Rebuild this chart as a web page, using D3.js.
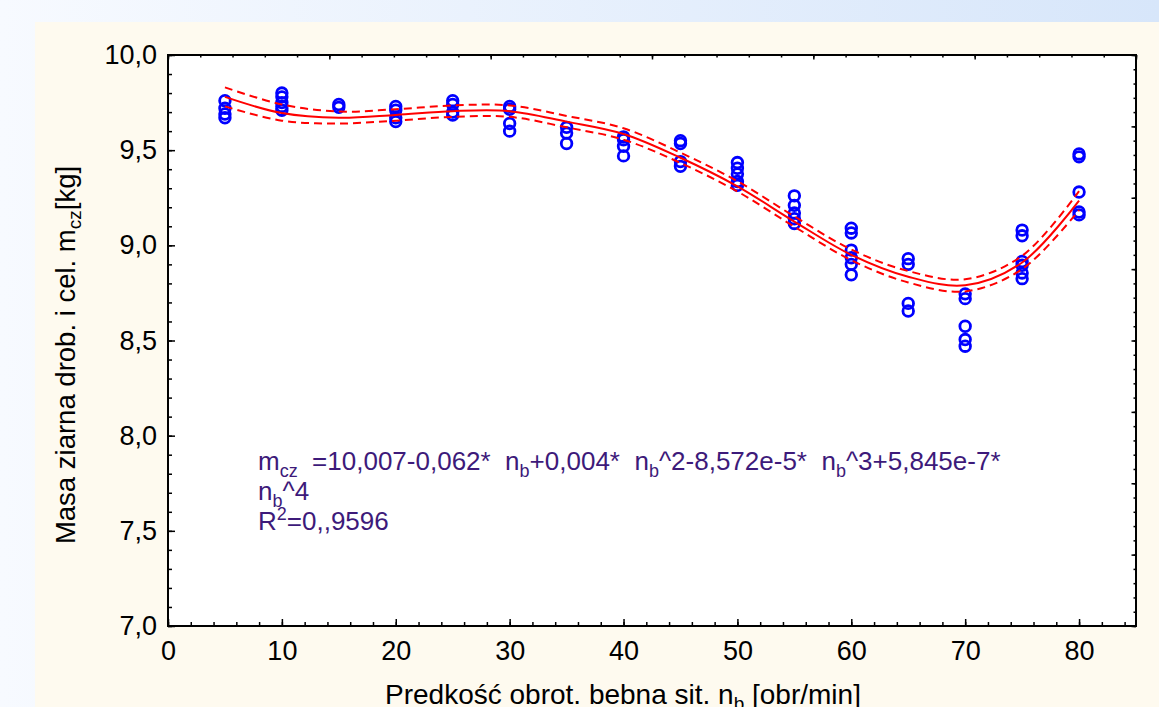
<!DOCTYPE html>
<html>
<head>
<meta charset="utf-8">
<style>
  body { margin: 0; overflow: hidden; }
  text { font-family: "Liberation Sans", Arial, sans-serif; }
</style>
</head>
<body>
<script src="https://d3js.org/d3.v7.min.js"></script>
<script>

  // measured points: speed [obr/min] -> mass [kg]
  var pointX = [5, 5, 5, 5,
                10, 10, 10, 10, 10,
                15, 15,
                20, 20, 20, 20,
                25, 25, 25, 25,
                30, 30, 30, 30,
                35, 35, 35,
                40, 40, 40, 40,
                45, 45, 45, 45,
                50, 50, 50, 50, 50,
                55, 55, 55, 55, 55,
                60, 60, 60, 60, 60, 60,
                65, 65, 65, 65,
                70, 70, 70, 70, 70,
                75, 75, 75, 75, 75, 75,
                80, 80, 80, 80, 80];
  var pointY = [9.76, 9.72, 9.69, 9.67,
                9.80, 9.78, 9.75, 9.73, 9.71,
                9.74, 9.725,
                9.73, 9.71, 9.67, 9.65,
                9.76, 9.74, 9.70, 9.685,
                9.73, 9.715, 9.64, 9.60,
                9.62, 9.59, 9.535,
                9.57, 9.555, 9.52, 9.47,
                9.55, 9.535, 9.44, 9.415,
                9.435, 9.405, 9.375, 9.335, 9.315,
                9.26, 9.21, 9.17, 9.14, 9.115,
                9.09, 9.065, 8.975, 8.935, 8.90, 8.845,
                8.93, 8.90, 8.695, 8.655,
                8.745, 8.72, 8.575, 8.505, 8.47,
                9.08, 9.05, 8.915, 8.895, 8.855, 8.825,
                9.48, 9.465, 9.28, 9.175, 9.16];

  // fitted curve and confidence band
  var fitX     = [5, 10, 15, 20, 25, 30, 35, 40, 45, 50, 55, 60, 65, 70, 75, 80];
  var fitY     = [9.78, 9.695, 9.67, 9.685, 9.705, 9.705, 9.65, 9.585, 9.46, 9.31, 9.125, 8.95, 8.835, 8.79, 8.91, 9.235];
  var fitUpper = [9.83, 9.74, 9.703, 9.715, 9.735, 9.735, 9.68, 9.615, 9.487, 9.337, 9.152, 8.978, 8.865, 8.822, 8.945, 9.285];
  var fitLower = [9.73, 9.655, 9.64, 9.655, 9.675, 9.675, 9.62, 9.555, 9.433, 9.283, 9.098, 8.922, 8.805, 8.758, 8.875, 9.185];

  var xTicks = [0, 10, 20, 30, 40, 50, 60, 70, 80];
  var yTicks = [7.0, 7.5, 8.0, 8.5, 9.0, 9.5, 10.0];

  var width = 1159;
  var height = 707;
  var plotLeft = 168, plotRight = 1136, plotTop = 55, plotBottom = 626;

  var svg = d3.select("body")
      .append("svg")
      .attr("width", width)
      .attr("height", height);

  // page background
  var grad = svg.append("defs").append("linearGradient")
      .attr("id", "bg")
      .attr("x1", "0%").attr("x2", "100%").attr("y1", "0%").attr("y2", "0%");
  grad.append("stop").attr("offset", "0%").attr("stop-color", "#f7faff");
  grad.append("stop").attr("offset", "100%").attr("stop-color", "#d7e6fa");

  svg.append("rect")
      .attr("width", width).attr("height", height)
      .attr("fill", "url(#bg)");
  svg.append("rect")
      .attr("x", 35).attr("y", 22)
      .attr("width", width - 35).attr("height", height - 22)
      .attr("fill", "#fefaef");

  var x = d3.scaleLinear().domain([0, 85]).range([plotLeft, plotRight]);
  var y = d3.scaleLinear().domain([7, 10]).range([plotBottom, plotTop]);

  svg.append("rect")
      .attr("x", plotLeft).attr("y", plotTop)
      .attr("width", plotRight - plotLeft).attr("height", plotBottom - plotTop)
      .attr("fill", "#ffffff");

  var comma = function (d) { return d3.format(".1f")(d).replace(".", ","); };

  // bottom axis: ticks inward
  svg.append("g")
      .attr("transform", "translate(0," + plotBottom + ")")
      .call(d3.axisBottom(x).tickValues(d3.range(0, 86, 2)).tickSize(-4).tickFormat(""));
  svg.append("g")
      .attr("transform", "translate(0," + plotBottom + ")")
      .call(d3.axisBottom(x).tickValues(xTicks).tickSize(-7).tickPadding(15))
      .call(function (g) {
        g.selectAll("text").attr("font-size", 27).attr("fill", "#000");
      });

  // left axis
  svg.append("g")
      .attr("transform", "translate(" + plotLeft + ",0)")
      .call(d3.axisLeft(y).tickValues(d3.range(70, 101).map(function (d) { return d / 10; })).tickSize(-4).tickFormat(""));
  svg.append("g")
      .attr("transform", "translate(" + plotLeft + ",0)")
      .call(d3.axisLeft(y).tickValues(yTicks).tickSize(-7).tickPadding(11).tickFormat(comma))
      .call(function (g) {
        g.selectAll("text").attr("font-size", 27).attr("fill", "#000");
      });

  // top and right frame ticks (own divisions)
  var topScale = d3.scaleLinear().domain([0, 30]).range([plotLeft, plotRight]);
  svg.append("g")
      .attr("transform", "translate(0," + plotTop + ")")
      .call(d3.axisTop(topScale).tickValues(d3.range(0, 31)).tickSize(-2.5).tickFormat(""));
  svg.append("g")
      .attr("transform", "translate(0," + plotTop + ")")
      .call(d3.axisTop(topScale).tickValues(d3.range(0, 31, 5)).tickSize(-4.5).tickFormat(""));

  var rightScale = d3.scaleLinear().domain([0, 40]).range([plotBottom, plotTop]);
  svg.append("g")
      .attr("transform", "translate(" + plotRight + ",0)")
      .call(d3.axisRight(rightScale).tickValues(d3.range(0, 41)).tickSize(-2.5).tickFormat(""));
  svg.append("g")
      .attr("transform", "translate(" + plotRight + ",0)")
      .call(d3.axisRight(rightScale).tickValues(d3.range(0, 41, 5)).tickSize(-4.5).tickFormat(""));

  svg.selectAll(".domain").remove();
  svg.selectAll(".tick line").attr("stroke", "#000").attr("stroke-width", 1.5);

  svg.append("rect")
      .attr("x", plotLeft).attr("y", plotTop)
      .attr("width", plotRight - plotLeft).attr("height", plotBottom - plotTop)
      .attr("fill", "none")
      .attr("stroke", "#000")
      .attr("stroke-width", 2);

  // points
  svg.append("g").selectAll("circle")
      .data(pointX)
      .enter()
        .append("circle")
        .attr("cx", function (d) { return x(d); })
        .attr("cy", function (d, i) { return y(pointY[i]); })
        .attr("r", 5.3)
        .attr("fill", "none")
        .attr("stroke", "#0000ff")
        .attr("stroke-width", 2.8);

  // fitted curve and band
  function fitLine(values) {
    return d3.line()
        .x(function (d) { return x(d); })
        .y(function (d, i) { return y(values[i]); })
        .curve(d3.curveCatmullRom.alpha(0.5));
  }

  svg.append("path")
      .attr("d", fitLine(fitUpper)(fitX))
      .attr("fill", "none")
      .attr("stroke", "#ff0000")
      .attr("stroke-width", 2)
      .attr("stroke-dasharray", "8,5");
  svg.append("path")
      .attr("d", fitLine(fitLower)(fitX))
      .attr("fill", "none")
      .attr("stroke", "#ff0000")
      .attr("stroke-width", 2)
      .attr("stroke-dasharray", "8,5");
  svg.append("path")
      .attr("d", fitLine(fitY)(fitX))
      .attr("fill", "none")
      .attr("stroke", "#ff0000")
      .attr("stroke-width", 2);

  // regression equation
  var sp = "\u00a0";
  var eq = svg.append("g")
      .attr("fill", "#3d1a7a")
      .attr("font-size", 26);

  var line1 = eq.append("text").attr("x", 258).attr("y", 470);
  line1.append("tspan").text("m");
  line1.append("tspan").attr("font-size", 18).attr("dy", 7).text("cz");
  line1.append("tspan").attr("dy", -7).text(sp + sp + "=10,007-0,062*" + sp + sp + "n");
  line1.append("tspan").attr("font-size", 18).attr("dy", 7).text("b");
  line1.append("tspan").attr("dy", -7).text("+0,004*" + sp + sp + "n");
  line1.append("tspan").attr("font-size", 18).attr("dy", 7).text("b");
  line1.append("tspan").attr("dy", -7).text("^2-8,572e-5*" + sp + sp + "n");
  line1.append("tspan").attr("font-size", 18).attr("dy", 7).text("b");
  line1.append("tspan").attr("dy", -7).text("^3+5,845e-7*");

  var line2 = eq.append("text").attr("x", 258).attr("y", 500);
  line2.append("tspan").text("n");
  line2.append("tspan").attr("font-size", 18).attr("dy", 7).text("b");
  line2.append("tspan").attr("dy", -7).text("^4");

  var line3 = eq.append("text").attr("x", 258).attr("y", 530);
  line3.append("tspan").text("R");
  line3.append("tspan").attr("font-size", 18).attr("dy", -10).text("2");
  line3.append("tspan").attr("dy", 10).text("=0,,9596");

  // axis titles
  var xt = svg.append("text")
      .attr("x", 385).attr("y", 704)
      .attr("font-size", 28)
      .attr("fill", "#000");
  xt.append("tspan").text("Predkość obrot. bebna sit. n");
  xt.append("tspan").attr("font-size", 19).attr("dy", 6).text("b");
  xt.append("tspan").attr("dy", -6).text(" [obr/min]");

  var yt = svg.append("text")
      .attr("transform", "translate(75,355) rotate(-90)")
      .attr("text-anchor", "middle")
      .attr("font-size", 27.5)
      .attr("fill", "#000");
  yt.append("tspan").text("Masa ziarna drob. i cel. m");
  yt.append("tspan").attr("font-size", 19).attr("dy", 6).text("cz");
  yt.append("tspan").attr("dy", -6).text("[kg]");

</script>
</body>
</html>
